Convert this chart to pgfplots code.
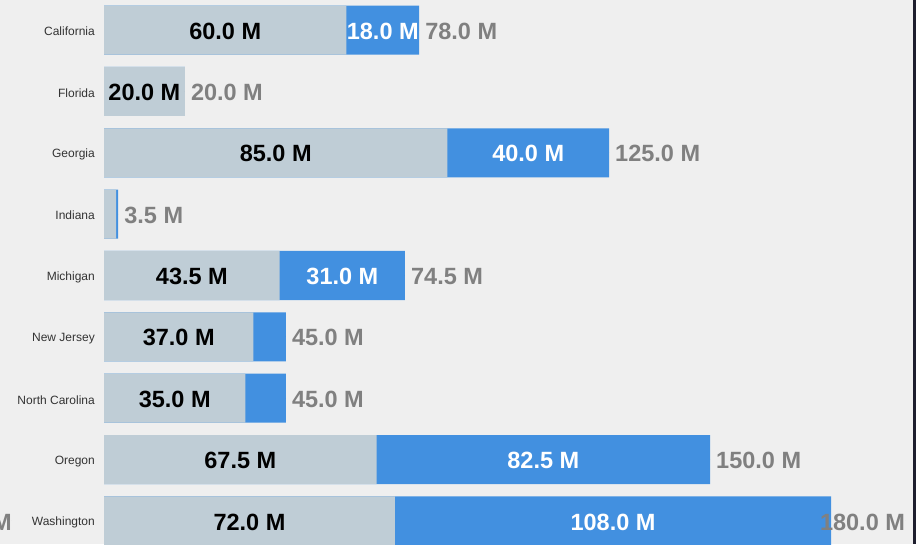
\documentclass[border=0pt]{standalone}
\usepackage{pgfplots}
\pgfplotsset{compat=1.18}
\usepackage{pgfplotstable}
\usepackage{fontspec}
\setmainfont{Liberation Sans}
\definecolor{bgc}{HTML}{EFEFEF}
\definecolor{lightbar}{HTML}{BFCDD6}
\definecolor{bluebar}{HTML}{4290E0}
\definecolor{totgray}{HTML}{808080}
\definecolor{catgray}{HTML}{333333}
\definecolor{edgec}{HTML}{1E1E2E}

% y = row, a = first segment, t = total
\pgfplotstableread{
y a t
0 60 78
1 20 20
2 85 125
3 3 3.5
4 43.5 74.5
5 37 45
6 35 45
7 67.5 150
8 72 180
}\bars

\pgfplotstableread{
y a
0 60
1 20
2 85
4 43.5
5 37
6 35
7 67.5
8 72
}\lightlab

\pgfplotstableread{
y a t
0 60 78
2 85 125
4 43.5 74.5
7 67.5 150
8 72 180
}\bluelab

\pgfplotstableread{
y t
0 78
1 20
2 125
3 3.5
4 74.5
5 45
6 45
7 150
}\totlab

\pgfplotstableread{
y t pos
8 180 198.3
}\totlabW

\pgfplotstableread{
y t pos
8 180 -22.8
}\totlabL

\begin{document}
\begin{tikzpicture}[x=1pt,y=1pt]
\path[use as bounding box] (0,0) rectangle (916,544);
\fill[bgc] (0,0) rectangle (916,544);
\fill[edgec] (912.5,0) rectangle (916,544);
\clip (0,0) rectangle (912.5,544);
\begin{axis}[
  at={(104pt,544.6875pt)}, anchor=north west,
  scale only axis, width=808pt, height=552.375pt,
  xmin=0, xmax=200, ymin=-0.5, ymax=8.5,
  y dir=reverse, enlargelimits=false, clip=false,
  axis lines=left, axis line style={draw=none},
  xtick=\empty, ytick={0,...,8},
  yticklabels={California,Florida,Georgia,Indiana,Michigan,New Jersey,North Carolina,Oregon,Washington},
  major tick length=0pt,
  yticklabel style={font=\fontsize{12}{14}\selectfont, text=catgray, inner sep=0pt, anchor=east, xshift=-9pt, yshift=-1.5pt},
  /pgf/number format/assume math mode=true,
  lbl/.style={only marks, mark=*, mark size=0pt, mark options={draw=none, fill=none},
    nodes near coords={\pgfmathprintnumber[fixed,fixed zerofill,precision=1]{\pgfplotspointmeta} M},
    every node near coord/.append style={font=\bfseries\fontsize{23.5}{25}\selectfont, inner sep=0pt, yshift=-1pt}},
]
\addplot[xbar, bar shift=0pt, bar width=49pt, fill=bluebar, draw=none] table[x=t, y=y]{\bars};
\addplot[xbar, bar shift=0pt, bar width=49pt, fill=lightbar, draw=none] table[x=a, y=y]{\bars};

\addplot[lbl, point meta=\thisrow{a}, every node near coord/.append style={anchor=center, text=black}]
  table[x expr=\thisrow{a}/2, y=y]{\lightlab};
\addplot[lbl, point meta=\thisrow{t}-\thisrow{a}, every node near coord/.append style={anchor=center, text=white}]
  table[x expr=(\thisrow{a}+\thisrow{t})/2, y=y]{\bluelab};
\addplot[lbl, point meta=\thisrow{t}, every node near coord/.append style={anchor=west, xshift=6pt, text=totgray}]
  table[x=t, y=y]{\totlab};
\addplot[lbl, point meta=\thisrow{t}, every node near coord/.append style={anchor=east, text=totgray}]
  table[x=pos, y=y]{\totlabW};
\addplot[lbl, point meta=\thisrow{t}, every node near coord/.append style={anchor=east, text=totgray}]
  table[x=pos, y=y]{\totlabL};
\end{axis}
\end{tikzpicture}
\end{document}
